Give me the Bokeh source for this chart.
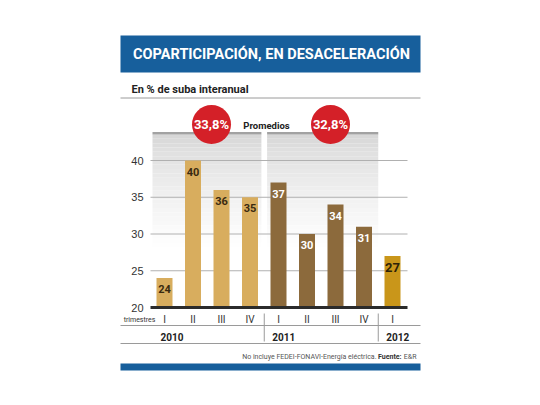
from bokeh.plotting import figure
from bokeh.models import Range1d
from bokeh.core.properties import value
from bokeh.embed import file_html
from bokeh.resources import INLINE

# ---------------- data ----------------
quarters = ["I", "II", "III", "IV", "I", "II", "III", "IV", "I"]
years = ["2010", "2010", "2010", "2010", "2011", "2011", "2011", "2011", "2012"]
growth = [24, 40, 36, 35, 37, 30, 34, 31, 27]
year_labels = ["2010", "2011", "2012"]
averages = ["33,8%", "32,8%"]
y_ticks = [20, 25, 30, 35, 40]

title = "COPARTICIPACIÓN, EN DESACELERACIÓN"
subtitle = "En %  de suba interanual"
note_a = "No incluye FEDEI-FONAVI-Energía eléctrica."
note_b = "Fuente:"
note_c = "E&R"

# ---------------- styles ----------------
NARROW = "Roboto"
REG = "Liberation Sans"
BLUE = "#175f9c"
RED = "#d42028"
year_color = {"2010": "#d8ad5e", "2011": "#8c6a3c", "2012": "#c9961a"}
label_color = {"2010": "#3a2a10", "2011": "#ffffff", "2012": "#2e2208"}

W, H = 524, 389
# pixel geometry (page pixels) -> data coordinates
X0, DX = 164.0, 28.5      # centre of first bar, spacing between bars
Y0, DY = 307.0, 7.35      # baseline pixel of value 20, pixels per unit


def X(px):
    return (px - X0) / DX


def Y(py):
    return 20 + (Y0 - py) / DY


p = figure(width=W, height=H, output_backend="svg", toolbar_location=None,
           x_range=Range1d(X(0), X(W)), y_range=Range1d(Y(H), Y(0)),
           x_axis_type=None, y_axis_type=None, min_border=0)
p.outline_line_color = None
p.background_fill_color = "white"
p.border_fill_color = "white"
p.xgrid.visible = False
p.ygrid.visible = False


def txt(x, y, s, size, font=NARROW, color="#222222", align="center",
        style="bold", baseline="middle"):
    p.text(x=[x], y=[y], text=[s], text_font=value(font),
           text_font_size=value(f"{size}px"), text_color=color,
           text_align=align, text_baseline=baseline, text_font_style=style)


# title banner
p.quad(left=[X(120)], right=[X(420)], top=[Y(35)], bottom=[Y(72)],
       fill_color=BLUE, line_color=None)
txt(X(271), Y(54), title, 14.5, color="white")

# subtitle + rule
txt(X(131), Y(89), subtitle, 11, align="left", color="#222222")
p.segment(x0=[X(120)], x1=[X(420)], y0=[Y(97.5)], y1=[Y(97.5)],
          line_color="#9a9a9a", line_width=1)

# shaded "promedio" panels with vertical gradient
n = len(years)
first_2011 = years.index("2011")
last_2011 = n - 1 - years[::-1].index("2011")
panels = [(X(152), first_2011 - 0.5 - 0.1), (first_2011 - 0.5 + 0.1, last_2011 + 0.5)]
steps = 40
top_px, bot_px = 134.0, 307.0
for (l, r) in panels:
    for k in range(steps):
        t0 = top_px + (bot_px - top_px) * k / steps
        t1 = top_px + (bot_px - top_px) * (k + 1) / steps
        f = (k + 0.5) / steps
        g = int(round(212 + 43 * min(1.0, f / 0.65) ** 0.7))
        p.quad(left=[l], right=[r], top=[Y(t0)], bottom=[Y(t1)],
               fill_color=(g, g, g), line_color=None)
    p.quad(left=[l], right=[r], top=[Y(131.5)], bottom=[Y(134)],
           fill_color="#a2a2a2", line_color=None)

# gridlines and y labels
grid_vals = [v for v in y_ticks if v > 20]
p.segment(x0=[X(150)] * len(grid_vals), x1=[X(407)] * len(grid_vals),
          y0=grid_vals, y1=grid_vals, line_color="#b0b0b0", line_width=1)
p.text(x=[X(143)] * len(y_ticks), y=y_ticks, text=[str(v) for v in y_ticks],
       text_font=value(REG), text_font_size=value("11px"), text_color="#333333",
       text_align="right", text_baseline="middle")

# bars
xs = list(range(n))
p.vbar(x=xs, top=growth, bottom=20, width=16 / DX,
       fill_color=[year_color[y] for y in years], line_color=None)
p.text(x=xs, y=[v - 11 / DY for v in growth], text=[str(v) for v in growth],
       text_font=value(NARROW),
       text_font_size=[("13px" if y == "2012" else "11px") for y in years],
       text_color=[label_color[y] for y in years], text_align="center",
       text_baseline="middle", text_font_style="bold")

# baseline
p.segment(x0=[X(150)], x1=[X(407)], y0=[20], y1=[20],
          line_color="#2b2b2b", line_width=3)

# average circles
circle_x = [X(211), X(330)]
cy = Y(124)
p.scatter(x=circle_x, y=[cy, cy], size=39, fill_color=RED, line_color=None)
p.text(x=circle_x, y=[cy, cy], text=averages, text_font=value(NARROW),
       text_font_size=value("13px"), text_color="white", text_align="center",
       text_baseline="middle", text_font_style="bold")
txt(X(266), Y(125), "Promedios", 9.5, color="#222222")

# x axis labels
p.text(x=xs, y=[Y(319)] * n, text=quarters, text_font=value(NARROW),
       text_font_size=value("10px"), text_color="#333333", text_align="center",
       text_baseline="middle")
txt(X(139), Y(319), "trimestres", 7, style="normal", color="#333333")
p.segment(x0=[X(120), X(120)], x1=[X(420), X(420)], y0=[Y(325), Y(343)],
          y1=[Y(325), Y(343)], line_color="#9a9a9a", line_width=1)
seps = [first_2011 - 0.5, last_2011 + 0.5]
p.segment(x0=seps, x1=seps, y0=[Y(313)] * 2, y1=[Y(341)] * 2,
          line_color="#9a9a9a", line_width=1)
year_left = [X(160), seps[0] + 8 / DX, seps[1] + 8 / DX]
p.text(x=year_left, y=[Y(336)] * 3, text=year_labels, text_font=value(NARROW),
       text_font_size=value("10px"), text_color="#222222", text_align="left",
       text_baseline="middle", text_font_style="bold")

# footnote (right aligned pieces)
txt(X(416), Y(356), note_c, 7, style="normal", align="right", color="#555555")
txt(X(401), Y(356), note_b, 7, style="bold", align="right", color="#333333")
txt(X(376), Y(356), note_a, 7, style="normal", align="right", color="#555555")

# bottom blue bar
p.quad(left=[X(120)], right=[X(420)], top=[Y(363)], bottom=[Y(370)],
       fill_color=BLUE, line_color=None)

open("out.html", "w").write(file_html(p, INLINE))
